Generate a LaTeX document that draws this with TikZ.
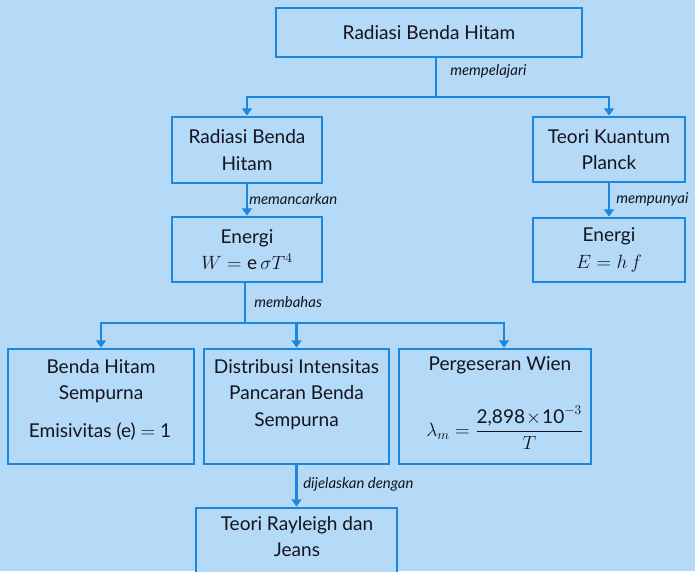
\documentclass[tikz,border=0pt]{standalone}
\usepackage{fontspec}
\setmainfont{Lato}
\usepackage{amsmath}
\usetikzlibrary{arrows.meta}
\definecolor{bg}{HTML}{B5DAF7}
\definecolor{ln}{HTML}{1C87DC}
\definecolor{tx}{HTML}{14141E}
\begin{document}
\begin{tikzpicture}[x=0.75pt,y=-0.75pt,
  box/.style={draw=ln, line width=2.1pt, fill=bg, inner sep=0pt, text=tx,
    font=\fontsize{14.3}{20}\selectfont, align=center},
  sz/.style 2 args={minimum width=#1*0.75pt, minimum height=#2*0.75pt},
  txt/.style={text=tx, font=\fontsize{14.3}{20}\selectfont, align=center, inner sep=0pt},
  lbl/.style={text=tx, font=\fontsize{11.2}{13}\selectfont\itshape, inner sep=0pt, anchor=west},
  conn/.style={draw=ln, line width=2.1pt},
  arr/.style={conn, -{Triangle[width=7.5pt,length=5.5pt]}}]
\fill[bg] (0,0) rectangle (695,571);
\useasboundingbox (0,0) rectangle (695,571);

% boxes
\node[box, sz={306}{49}] (top) at (429,32.5) {Radiasi Benda Hitam};
\node[box, sz={150}{66}] (rbh) at (247,150) {Radiasi Benda\\Hitam};
\node[box, sz={150}{65}] (en1) at (247,249.5) {Energi\\$W = \text{e}\,\sigma T^{4}$};
\node[box, sz={152}{65}] (tkp) at (609,149.5) {Teori Kuantum\\Planck};
\node[box, sz={152}{64}] (en2) at (609,250) {Energi\\$E = h\,f$};
\node[box, sz={186}{115}] (bhs) at (101,406.5) {};
\node[box, sz={185}{115}] (dis) at (296.5,406.5) {};
\node[box, sz={192}{115}] (wien) at (495,406.5) {};
\node[box, sz={201}{70}] (ray) at (296.5,543) {};

% texts in lower boxes
\node[txt] (bhs1) at (101,381) {Benda Hitam\\Sempurna};
\node[txt] (bhs2) at (100,431) {Emisivitas (e) $=$ 1};
\node[txt] (dis1) at (296.5,394.5) {Distribusi Intensitas\\Pancaran Benda\\Sempurna};
\node[txt] (wien1) at (500,365) {Pergeseran Wien};
\node[txt] (wien2) at (505,428) {$\lambda_m = \dfrac{\text{2,898}\!\times\!\text{10}^{-3}}{T}$};
\node[txt] (ray1) at (297,536.5) {Teori Rayleigh dan\\Jeans};

% connectors
\coordinate (j1) at (436,97);
\coordinate (j2) at (245,323);
\draw[conn] (j1 |- top.south) -- (j1);
\draw[arr] (j1) -| (rbh.north);
\draw[arr] (j1) -| (tkp.north);
\node[lbl] (l1) at (450,71) {mempelajari};

\draw[arr] (rbh) -- (en1);
\node[lbl] (l2) at (249,199) {memancarkan};

\draw[arr] (tkp) -- (en2);
\node[lbl] (l3) at (616,199) {mempunyai};

\draw[conn] (j2 |- en1.south) -- (j2);
\node[lbl] (l4) at (254,302) {membahas};
\draw[arr] (j2) -| (bhs.north);
\draw[arr] (j2) -| (dis.north);
\draw[arr] (j2) -| ([xshift=6.75pt]wien.north);

\draw[arr] (dis) -- (ray);
\node[lbl] (l5) at (303,484) {dijelaskan dengan};
\end{tikzpicture}
\end{document}
